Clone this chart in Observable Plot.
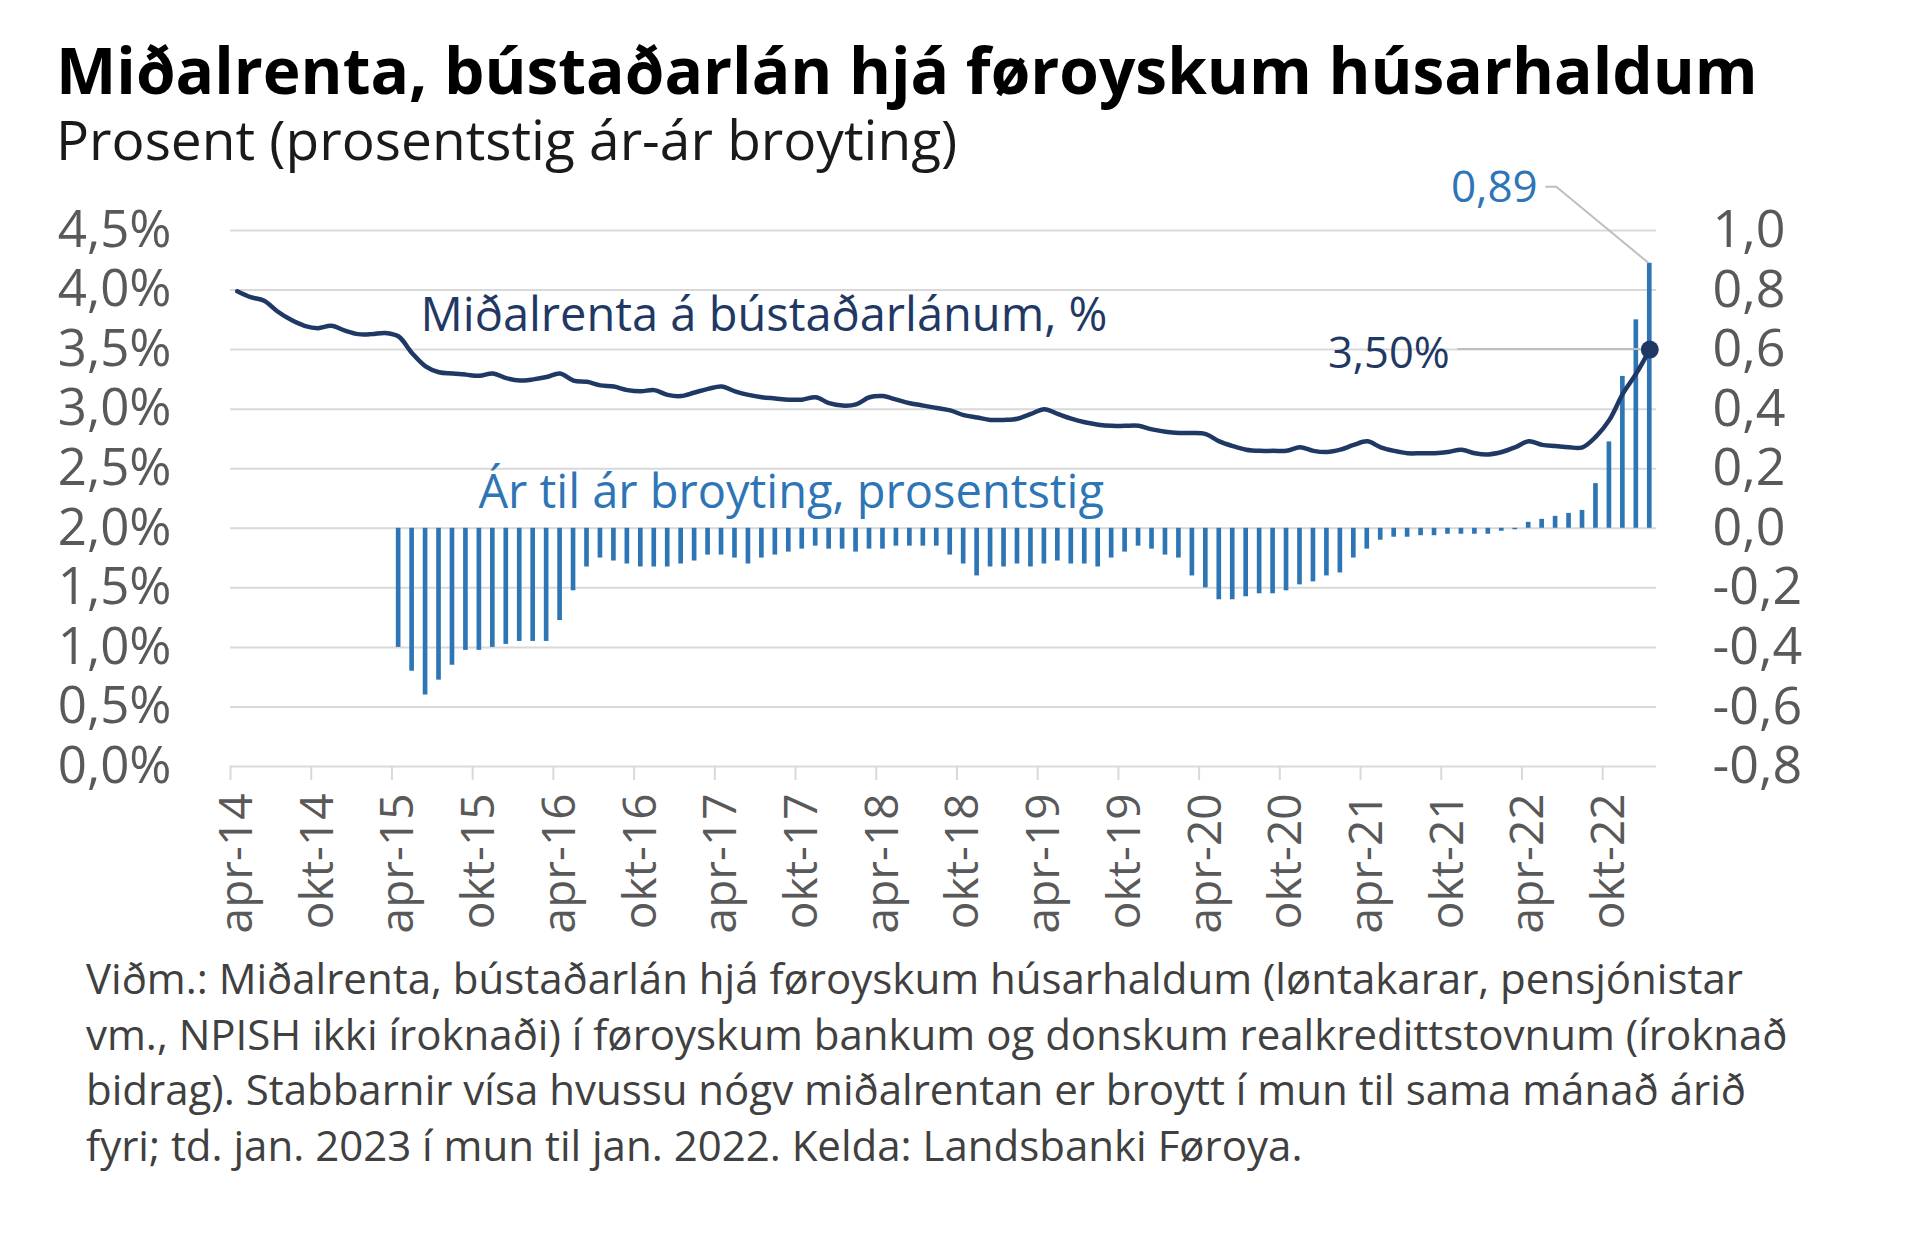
<!DOCTYPE html>
<html lang="fo">
<head>
<meta charset="utf-8">
<title>Miðalrenta, bústaðarlán hjá føroyskum húsarhaldum</title>
<script src="https://cdn.jsdelivr.net/npm/d3@7"></script>
<script src="https://cdn.jsdelivr.net/npm/@observablehq/plot@0.6"></script>
<style>
  html, body { margin: 0; padding: 0; background: #fff; }
  body { position: relative; width: 1920px; height: 1241px; overflow: hidden; font-family: "Open Sans", sans-serif; }
  #title { position: absolute; left: 56px; top: 38px; font-size: 64px; line-height: 64px; font-weight: 700; color: #000; white-space: nowrap; }
  #subtitle { position: absolute; left: 56px; top: 111px; font-size: 55px; line-height: 55px; color: #1a1a1a; white-space: nowrap; }
  #chart { position: absolute; left: 0; top: 165px; }
  #caption { position: absolute; left: 86px; top: 950px; font-size: 42px; line-height: 55.7px; color: #404040; white-space: nowrap; }
</style>
</head>
<body>
<div id="chart"></div>
<div id="title">Miðalrenta, bústaðarlán hjá føroyskum húsarhaldum</div>
<div id="subtitle">Prosent (prosentstig ár-ár broyting)</div>
<div id="caption">Viðm.: Miðalrenta, bústaðarlán hjá føroyskum húsarhaldum (løntakarar, pensjónistar<br>vm., NPISH ikki íroknaði) í føroyskum bankum og donskum realkredittstovnum (íroknað<br>bidrag). Stabbarnir vísa hvussu nógv miðalrentan er broytt í mun til sama mánað árið<br>fyri; td. jan. 2023 í mun til jan. 2022. Kelda: Landsbanki Føroya.</div>
<script>
// Monthly observations, apr-2014 .. jan-2023
const firstMonth = new Date(Date.UTC(2014, 3, 1));
const endMonth = new Date(Date.UTC(2023, 1, 1));
const monthNames = ["jan", "feb", "mar", "apr", "mai", "jun", "jul", "aug", "sep", "okt", "nov", "des"];

// Average interest rate on housing loans, % (left axis)
const rate = [
  3.99, 3.94, 3.91, 3.82, 3.75, 3.70, 3.68, 3.70, 3.66, 3.63, 3.63, 3.64,
  3.61, 3.47, 3.36, 3.31, 3.30, 3.29, 3.28, 3.30, 3.26, 3.24, 3.25, 3.27,
  3.30, 3.24, 3.23, 3.20, 3.19, 3.16, 3.15, 3.16, 3.12, 3.11, 3.14, 3.17,
  3.19, 3.15, 3.12, 3.10, 3.09, 3.08, 3.08, 3.10, 3.05, 3.03, 3.04, 3.10,
  3.11, 3.08, 3.05, 3.03, 3.01, 2.99, 2.95, 2.93, 2.91, 2.91, 2.92, 2.96,
  3.00, 2.96, 2.92, 2.89, 2.87, 2.86, 2.86, 2.86, 2.83, 2.81, 2.80, 2.80,
  2.79, 2.73, 2.69, 2.66, 2.65, 2.65, 2.65, 2.68, 2.65, 2.64, 2.66, 2.70,
  2.73, 2.68, 2.65, 2.63, 2.63, 2.63, 2.64, 2.66, 2.63, 2.62, 2.64, 2.68,
  2.73, 2.70, 2.69, 2.68, 2.68, 2.77, 2.91, 3.13, 3.30, 3.50
];

// Year-on-year change, percentage points (right axis), apr-2015 .. jan-2023
const changeStart = 12;
const yoyChange = [
  -0.40, -0.48, -0.56, -0.51, -0.46, -0.41, -0.41, -0.40, -0.39, -0.38, -0.38, -0.38,
  -0.31, -0.21, -0.13, -0.10, -0.11, -0.12, -0.13, -0.13, -0.13, -0.12, -0.11, -0.09,
  -0.09, -0.10, -0.12, -0.10, -0.09, -0.08, -0.07, -0.06, -0.07, -0.07, -0.08, -0.07,
  -0.07, -0.06, -0.06, -0.06, -0.06, -0.09, -0.12, -0.16, -0.13, -0.13, -0.12, -0.13,
  -0.12, -0.11, -0.12, -0.12, -0.13, -0.10, -0.08, -0.06, -0.07, -0.09, -0.10, -0.16,
  -0.20, -0.24, -0.24, -0.23, -0.22, -0.22, -0.21, -0.19, -0.18, -0.16, -0.15, -0.10,
  -0.07, -0.04, -0.03, -0.03, -0.025, -0.025, -0.02, -0.02, -0.02, -0.02, -0.01, -0.005,
  0.02, 0.03, 0.04, 0.05, 0.06, 0.15, 0.29, 0.51, 0.70, 0.89
];

const leftTicks = [0, 0.5, 1, 1.5, 2, 2.5, 3, 3.5, 4, 4.5];
const rightTicks = [-0.8, -0.6, -0.4, -0.2, 0, 0.2, 0.4, 0.6, 0.8, 1.0];
const tickEvery = 6;

const rateLabel = "Miðalrenta á bústaðarlánum, %";
const changeLabel = "Ár til ár broyting, prosentstig";

// Right axis: 0,0 sits on 2,0 % and one percentage point spans 2,5 % of the left axis
const toLeft = v => 2 + v * 2.5;
const fromLeft = d => (d - 2) / 2.5;

const navy = "#1f3864";
const blue = "#2e75b6";
const grid = "#d9d9d9";
const axisText = "#595959";

const comma = (v, digits) => v.toFixed(digits).replace(".", ",").replace(/^-(0,0+)$/, "$1");

const months = d3.utcMonth.range(firstMonth, endMonth);
const keyOf = d3.utcFormat("%Y-%m");
const monthKeys = months.map(keyOf);
const labelOf = new Map(months.map(m => [keyOf(m), `${monthNames[m.getUTCMonth()]}-${String(m.getUTCFullYear()).slice(2)}`]));
const tickKeys = monthKeys.filter((d, i) => i % tickEvery === 0);

const rateData = monthKeys.map((month, i) => ({month, rate: rate[i]}));
const changeData = yoyChange.map((v, i) => ({month: monthKeys[changeStart + i], v}));
const lastRate = rateData[rateData.length - 1];
const lastChange = changeData[changeData.length - 1];

const W = 1920, H = 780;
const mL = 230, mR = 264, mT = 65, mB = 179;
const band = (W - mL - mR) / monthKeys.length;

// Leader lines from the two value labels to their marks
function leaders(index, scales) {
  const x = scales.x, y = scales.y;
  const half = x.bandwidth ? x.bandwidth() / 2 : 0;
  const cx = x(lastRate.month) + half;
  const yRate = y(lastRate.rate);
  const yTop = y(toLeft(lastChange.v));
  const g = document.createElementNS("http://www.w3.org/2000/svg", "g");
  g.setAttribute("fill", "none");
  g.setAttribute("stroke", "#bfbfbf");
  g.setAttribute("stroke-width", "2");
  const p1 = document.createElementNS("http://www.w3.org/2000/svg", "path");
  p1.setAttribute("d", `M${cx - 192},${yRate}H${cx - 9}`);
  const p2 = document.createElementNS("http://www.w3.org/2000/svg", "path");
  p2.setAttribute("d", `M${cx - 104},${yTop - 76}H${cx - 93}L${cx - 1},${yTop}`);
  g.append(p1, p2);
  return g;
}

const chart = Plot.plot({
  width: W,
  height: H,
  marginLeft: mL,
  marginRight: mR,
  marginTop: mT,
  marginBottom: mB,
  style: {fontFamily: "Open Sans, sans-serif", background: "transparent", overflow: "visible"},
  x: {type: "band", domain: monthKeys, padding: 0, label: null},
  y: {domain: [0, 4.5], label: null},
  marks: [
    Plot.ruleY(leftTicks, {stroke: grid, strokeWidth: 2}),
    Plot.axisX({ticks: tickKeys, tickSize: 14, tickFormat: () => "", label: null, stroke: grid, strokeWidth: 2, dx: -band / 2}),
    Plot.axisX({ticks: tickKeys, tickSize: 0, tickPadding: 27, tickRotate: -90, label: null, tickFormat: d => labelOf.get(d), fontSize: 46, color: axisText}),
    Plot.axisY({anchor: "left", ticks: leftTicks, tickSize: 0, tickPadding: 59, label: null, fontSize: 51, color: axisText, tickFormat: d => comma(d, 1) + "%"}),
    Plot.axisY({anchor: "right", ticks: rightTicks.map(toLeft), tickSize: 0, tickPadding: 56, label: null, fontSize: 52, color: axisText, tickFormat: d => comma(fromLeft(d), 1)}),
    Plot.barY(changeData, {x: "month", y1: 2, y2: d => toLeft(d.v), fill: blue, insetLeft: 4.4, insetRight: 4.4}),
    Plot.line(rateData, {x: "month", y: "rate", stroke: navy, strokeWidth: 4.5, curve: "catmull-rom"}),
    Plot.dot([lastRate], {x: "month", y: "rate", r: 9, fill: navy}),
    leaders,
    Plot.text([lastRate], {x: "month", y: "rate", text: d => comma(d.rate, 2) + "%", textAnchor: "end", dx: -200, dy: 4, fontSize: 43.5, fill: navy}),
    Plot.text([lastChange], {x: "month", y: d => toLeft(d.v), text: d => comma(d.v, 2), textAnchor: "end", dx: -112, dy: -75, fontSize: 44, fill: blue}),
    Plot.text([rateLabel], {x: () => monthKeys[14], y: 3.78, text: d => d, textAnchor: "start", dx: -5, fontSize: 47, fill: navy}),
    Plot.text([changeLabel], {x: () => monthKeys[18], y: toLeft(0.117), text: d => d, textAnchor: "start", dx: -1, fontSize: 47, fill: blue})
  ]
});

document.getElementById("chart").append(chart);
</script>
</body>
</html>
